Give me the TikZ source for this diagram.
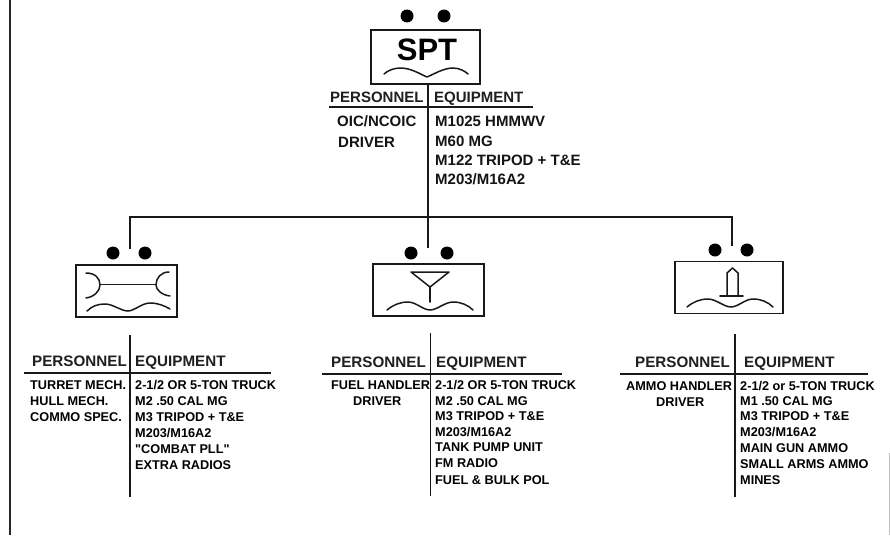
\documentclass[tikz,border=0pt]{standalone}
\usepackage{fontspec}
\setmainfont{Liberation Sans}[Ligatures=TeXOff]
\begin{document}
\begin{tikzpicture}[x=1pt,y=-1pt,
  line/.style={draw=black!90,line width=1.8pt},
  sym/.style={draw=black!90,line width=1.5pt,line cap=round,line join=round},
  unitbox/.style={draw=black!90,line width=1.8pt,minimum width=#1,minimum height=52pt,inner sep=0pt},
  hd/.style={inner sep=0pt,anchor=base west,font=\fontsize{15.2}{16}\selectfont\bfseries,text=black!88},
  tophd/.style={inner sep=0pt,anchor=base west,font=\fontsize{15}{16}\selectfont\bfseries,text=black!88},
  item/.style={inner sep=0pt,anchor=base west,font=\fontsize{12.7}{14}\selectfont\bfseries,text=black},
  topitem/.style={inner sep=0pt,anchor=base west,font=\fontsize{15}{15}\selectfont\bfseries,text=black!92},
  pip/.style={circle,fill=black,minimum size=13pt,inner sep=0pt}]
\useasboundingbox (0,0) rectangle (890,535);
\fill[white] (0,0) rectangle (890,535);
% frame
\coordinate (ft) at (10,0); \coordinate (fb) at (10,535);
\draw[line width=1.7pt,draw=black!85] (ft) -- (fb);
\coordinate (rt) at (889,453); \coordinate (rb) at (889,535);
\draw[line width=1pt,draw=black!25] (rt) -- (rb);
% top unit
\node[pip] (t1) at (407,16) {}; \node[pip] (t2) at (444,16) {};
\node[unitbox=109pt,minimum height=54pt] (spt) at (425.5,57) {};
\node[inner sep=0pt,font=\fontsize{31}{33}\selectfont\bfseries] (spttxt) at (427,50) {SPT};
\draw[sym] (384,74) .. controls (391,68) and (400,67) .. (408,69) .. controls (416,71) and (422,75) .. (427,77)
  .. controls (434,74) and (444,68) .. (453,68) .. controls (459,68) and (465,71) .. (468,74);
\node[tophd] (tp) at (330,102.5) {PERSONNEL};
\node[tophd] (te) at (434,102.5) {EQUIPMENT};
\coordinate (thl) at (329,107); \coordinate (thr) at (533,107);
\draw[line,line width=2pt] (thl) -- (thr);
\node[topitem] (tp1) at (337,126) {OIC/NCOIC};
\node[topitem] (tp2) at (338,147) {DRIVER};
\node[topitem] (te1) at (435,126) {M1025 HMMWV};
\node[topitem] (te2) at (435,146) {M60 MG};
\node[topitem] (te3) at (435,165) {M122 TRIPOD + T\&E};
\node[topitem] (te4) at (435,184) {M203/M16A2};
% connectors
\coordinate (bl) at (130,217); \coordinate (br) at (732,217);
\coordinate (sp) at (428,84);
\coordinate (el) at (130,249); \coordinate (ec) at (428,248); \coordinate (er) at (732,246);
\draw[line] (sp) -- (ec);
\draw[line] (el) -- (bl) -- (br) -- (er);
% left unit
\node[pip] (a1) at (113,253) {}; \node[pip] (a2) at (145,253) {};
\node[unitbox=101pt] (lu) at (126.5,291) {};
\draw[sym] (86,273) .. controls (95,273) and (100,278) .. (100,285) .. controls (100,291) and (94,297) .. (86,298);
\draw[sym] (169,272) .. controls (161,272) and (156,278) .. (156,285) .. controls (156,290) and (162,295) .. (170,296);
\coordinate (lb1) at (100,284); \coordinate (lb2) at (156,284);
\draw[sym,line width=1pt] (lb1) -- (lb2);
\draw[sym] (87,311) .. controls (92,306) and (98,304) .. (105,304) .. controls (113,304) and (121,311) .. (128,311)
  .. controls (134,311) and (142,303) .. (150,303) .. controls (158,303) and (165,306) .. (170,309);
\coordinate (lvt) at (130,335); \coordinate (lvb) at (130,497);
\draw[line] (lvt) -- (lvb);
\coordinate (lhl) at (24,373); \coordinate (lhr) at (271,373);
\draw[line] (lhl) -- (lhr);
\node[hd] (lp) at (32,366) {PERSONNEL};
\node[hd] (le) at (135,366) {EQUIPMENT};
\node[item] (lp1) at (30,389) {TURRET MECH.};
\node[item] (lp2) at (30,405) {HULL MECH.};
\node[item] (lp3) at (30,421) {COMMO SPEC.};
\node[item] (le1) at (135,389) {2-1/2 OR 5-TON TRUCK};
\node[item] (le2) at (135,405) {M2 .50 CAL MG};
\node[item] (le3) at (135,421) {M3 TRIPOD + T\&E};
\node[item] (le4) at (135,437) {M203/M16A2};
\node[item] (le5) at (135,453) {"COMBAT PLL"};
\node[item] (le6) at (135,469) {EXTRA RADIOS};
% centre unit
\node[pip] (b1) at (411,253) {}; \node[pip] (b2) at (447,253) {};
\node[unitbox=111pt] (cu) at (428.5,290) {};
\coordinate (ca) at (411,272); \coordinate (cb) at (449,272); \coordinate (cc) at (430,287); \coordinate (cd) at (430,302);
\draw[sym] (ca) -- (cb) -- (cc) -- cycle; \draw[sym] (cc) -- (cd);
\draw[sym] (387,310) .. controls (393,305) and (400,302) .. (408,302) .. controls (416,302) and (423,310) .. (430,310)
  .. controls (437,310) and (445,302) .. (453,302) .. controls (461,302) and (468,305) .. (473,310);
\coordinate (cvt) at (430.5,333); \coordinate (cvb) at (430.5,496);
\draw[line] (cvt) -- (cvb);
\coordinate (chl) at (322,374); \coordinate (chr) at (562,374);
\draw[line] (chl) -- (chr);
\node[hd] (cp) at (331,367) {PERSONNEL};
\node[hd] (ce) at (436,367) {EQUIPMENT};
\node[item] (cp1) at (331,389) {FUEL HANDLER};
\node[item] (cp2) at (353,405) {DRIVER};
\node[item] (ce1) at (435,389) {2-1/2 OR 5-TON TRUCK};
\node[item] (ce2) at (435,405) {M2 .50 CAL MG};
\node[item] (ce3) at (435,420) {M3 TRIPOD + T\&E};
\node[item] (ce4) at (435,436) {M203/M16A2};
\node[item] (ce5) at (435,451) {TANK PUMP UNIT};
\node[item] (ce6) at (435,467) {FM RADIO};
\node[item] (ce7) at (435,484) {FUEL \& BULK POL};
% right unit
\node[pip] (c1) at (715,250) {}; \node[pip] (c2) at (747,250) {};
\node[unitbox=108pt] (ru) at (729,287.5) {};
\draw[sym] (727,295) -- (727,273) -- (732.5,268) -- (738,273) -- (738,295);
\coordinate (rb1) at (720,296); \coordinate (rb2) at (743,296);
\draw[sym,line width=1.8pt] (rb1) -- (rb2);
\draw[sym] (687,307) .. controls (693,302) and (700,299) .. (708,299) .. controls (716,299) and (724,307) .. (731,307)
  .. controls (738,307) and (745,299) .. (753,299) .. controls (761,299) and (768,302) .. (773,307);
\coordinate (rvt) at (735,334); \coordinate (rvb) at (735,497);
\draw[line] (rvt) -- (rvb);
\coordinate (rhl) at (620,374); \coordinate (rhr) at (868,374);
\draw[line] (rhl) -- (rhr);
\node[hd] (rp) at (635,367) {PERSONNEL};
\node[hd] (re) at (744,367) {EQUIPMENT};
\node[item] (rp1) at (626,390) {AMMO HANDLER};
\node[item] (rp2) at (656,406) {DRIVER};
\node[item] (re1) at (740,390) {2-1/2 or 5-TON TRUCK};
\node[item] (re2) at (740,405) {M1 .50 CAL MG};
\node[item] (re3) at (740,420) {M3 TRIPOD + T\&E};
\node[item] (re4) at (740,436) {M203/M16A2};
\node[item] (re5) at (740,452) {MAIN GUN AMMO};
\node[item] (re6) at (740,468) {SMALL ARMS AMMO};
\node[item] (re7) at (740,484) {MINES};
\end{tikzpicture}
\end{document}
